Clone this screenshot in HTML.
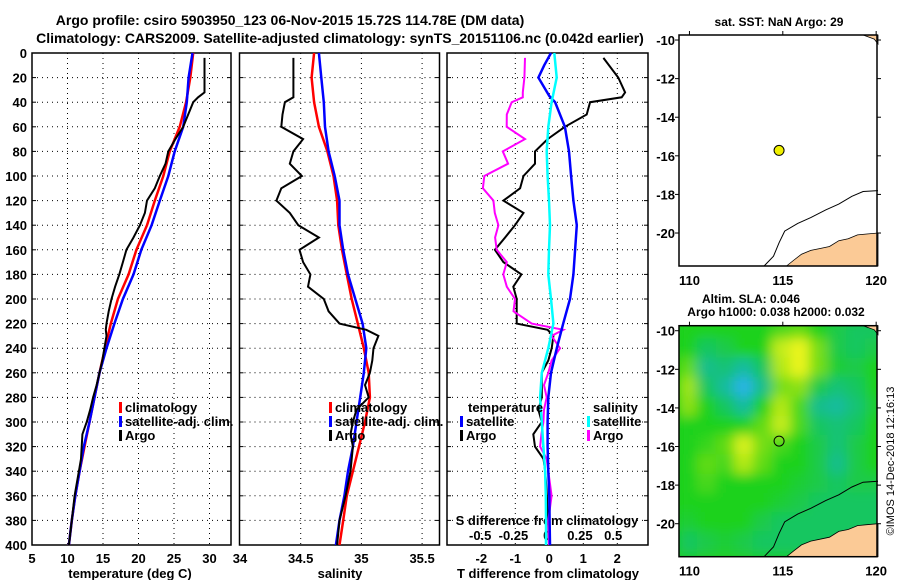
<!DOCTYPE html>
<html><head><meta charset="utf-8"><style>
html,body{margin:0;padding:0;background:#fff;}
svg{display:block;font-family:"Liberation Sans",Arial,sans-serif;font-weight:bold;}
</style></head><body>
<svg id="c" width="900" height="580" viewBox="0 0 900 580" xmlns="http://www.w3.org/2000/svg">
<defs>
<filter id="blur" x="-10%" y="-10%" width="120%" height="120%"><feGaussianBlur stdDeviation="6"/></filter>
<clipPath id="clip2"><rect x="679" y="325.7" width="198" height="231"/></clipPath>
</defs>
<text x="290" y="25" font-size="14" text-anchor="middle">Argo profile: csiro 5903950_123 06-Nov-2015 15.72S 114.78E (DM data)</text>
<text x="340" y="43" font-size="14" text-anchor="middle">Climatology: CARS2009. Satellite-adjusted climatology: synTS_20151106.nc (0.042d earlier)</text>
<g id="g"></g>
</svg>
<script>
const depths=[0,20,40,60,80,100,120,140,160,180,200,220,240,260,280,300,320,340,360,380,400];
const tempClim=[27.7,27.3,26.7,25.8,24.4,23.5,22.3,21.2,19.7,18.6,17.1,16.1,15.3,14.5,13.8,13.1,12.4,11.7,11.1,10.6,10.2];
const tempSat=[27.6,27.05,26.8,26.3,25.1,24.2,23.0,21.85,20.4,19.3,17.8,16.6,15.5,14.5,13.8,13.1,12.3,11.7,11.1,10.6,10.2];
const argoDepths=[4,20,32,36,40,50,60,70,80,90,100,110,120,130,140,150,160,170,180,190,200,210,220,225,230,240,250,260,270,280,290,300,310,320,330,340,360,380,400];
const tempArgo=[29.3,29.3,29.3,28.4,27.7,27.0,26.3,25.2,24.2,23.8,23.0,22.3,21.2,20.9,20.2,19.3,18.3,17.8,17.3,16.7,16.2,15.8,15.5,15.4,15.5,15.2,14.9,14.5,14.1,13.6,13.2,12.7,12.1,12.0,11.9,11.6,11.0,10.6,10.2];
const salClim=[34.61,34.59,34.61,34.65,34.72,34.77,34.80,34.81,34.84,34.88,34.92,34.97,35.02,35.06,35.07,35.03,34.98,34.93,34.88,34.85,34.82];
const salSat=[34.65,34.67,34.69,34.70,34.73,34.78,34.82,34.82,34.85,34.89,34.95,35.01,35.04,35.02,34.99,34.96,34.93,34.89,34.86,34.82,34.79];
const salArgo=[34.44,34.44,34.44,34.44,34.37,34.35,34.34,34.52,34.44,34.41,34.51,34.34,34.30,34.41,34.48,34.65,34.49,34.52,34.58,34.56,34.69,34.73,34.82,35.04,35.14,35.10,35.09,35.07,35.03,35.06,34.96,34.93,34.91,34.93,34.92,34.91,34.87,34.82,34.80];
const tdiffSatDepths=[0,10,20,35,40,60,80,100,120,140,160,180,200,220,240,260,280,300,320,340,360,380,400];
const tdiffSat=[0.05,-0.15,-0.32,0.0,0.17,0.46,0.58,0.64,0.71,0.81,0.76,0.71,0.61,0.41,0.22,0.05,-0.03,-0.05,-0.05,-0.03,0.0,0.01,0.02];
const tdiffArgo=[1.59,2.03,2.23,2.13,1.20,1.10,0.46,-0.05,-0.42,-0.42,-0.76,-0.86,-1.35,-0.76,-1.01,-1.30,-1.60,-1.35,-0.82,-1.06,-0.96,-0.96,-0.96,-0.05,0.12,0.07,-0.03,-0.22,-0.22,-0.22,-0.32,-0.22,-0.47,-0.42,-0.17,-0.12,-0.07,-0.04,-0.01];
const sdiffSat=[0.057,0.075,0.037,0.012,0.0,0.007,0.017,0.025,0.017,0.012,0.032,0.05,0.012,-0.037,-0.05,-0.037,-0.025,-0.012,-0.007,-0.005,-0.005];
const sdiffArgo=[-0.163,-0.168,-0.18,-0.18,-0.263,-0.30,-0.301,-0.163,-0.33,-0.29,-0.469,-0.48,-0.401,-0.39,-0.363,-0.388,-0.376,-0.30,-0.326,-0.30,-0.238,-0.25,-0.113,0.125,0.037,0.10,0.037,0.012,-0.02,0.0,-0.02,-0.025,-0.04,-0.05,0.0,0.012,0.037,0.012,0.017];
const tempTicks=[5,10,15,20,25,30];
const salTicks=[34,34.5,35,35.5];
const tdTicks=[-2,-1,0,1,2];
const sdTicks=[-0.5,-0.25,0,0.25,0.5];
const depthTicks=[0,20,40,60,80,100,120,140,160,180,200,220,240,260,280,300,320,340,360,380,400];
const latTicks=[-10,-12,-14,-16,-18,-20];
const lonTicks=[110,115,120];
const slaLats=[-10,-11,-12,-13,-14,-15,-16,-17,-18,-19,-20,-21];
const slaLons=[110,111,112,113,114,115,116,117,118,119,120];
const sla=[
[0,0,0,0,0,0.2,0.3,0,-0.2,-0.3,-0.3],
[0,-0.3,-0.2,0,0,0.8,1,0.4,-0.2,-0.3,-0.2],
[0.3,-0.5,-0.4,-0.6,-0.3,0.7,1,0.4,-0.1,-0.2,0],
[0.6,-0.3,-0.6,-1,-0.5,0.4,0.5,-0.2,-0.4,-0.3,0],
[0.5,0,-0.3,-0.6,0,0.7,0.2,-0.5,-0.6,-0.4,-0.1],
[0,0,0,0,0.3,0.8,0.2,-0.3,-0.4,-0.3,0],
[0,0.1,0.3,0.9,0.4,0.2,0,-0.2,-0.4,-0.2,0],
[0,0.3,0.2,0.7,0.3,0,0,-0.2,-0.5,-0.2,0],
[0,0.2,0,0,0,0,-0.1,-0.2,-0.3,-0.2,-0.2],
[0,0,0,0,0,-0.1,-0.2,-0.3,-0.3,-0.3,-0.3],
[-0.1,0,0,0,-0.2,-0.3,-0.3,-0.3,-0.3,-0.3,-0.3],
[-0.3,-0.2,-0.1,-0.2,-0.3,-0.3,-0.3,-0.3,-0.3,-0.3,-0.3]];
const landLon=[115.2,115.6,116,116.5,117,117.5,118,118.5,119,119.5,120.2,120.2];
const landLat=[-21.8,-21.4,-21.1,-20.9,-20.8,-20.7,-20.4,-20.3,-20.1,-20.05,-20,-21.8];
const isoLon=[114,114.5,114.8,115.1,115.8,116.5,117.3,118,118.7,119.3,120.2];
const isoLat=[-21.8,-21.2,-20.5,-19.9,-19.5,-19.2,-18.8,-18.5,-18.1,-17.85,-17.8];
const floatLon=114.8, floatLat=-15.72;

const NS="http://www.w3.org/2000/svg";
const G=document.getElementById('g');
function mk(tag,attrs,parent){const e=document.createElementNS(NS,tag);for(const k in attrs)e.setAttribute(k,attrs[k]);(parent||G).appendChild(e);return e;}
function txt(x,y,s,size,anchor,name){const t=mk('text',{x:x,y:y,'font-size':size,'text-anchor':anchor});t.textContent=s;


return t;}
const TOP=53,BOT=545;
const yD=d=>TOP+(d/400)*(BOT-TOP);
const panels=[
 {l:32,r:231,x:v=>32+(v-5)*7.1},
 {l:239.5,r:439.5,x:v=>240+(v-34)*121.4},
 {l:447,r:648,x:v=>549.3+v*34}];
const xS=v=>546.7+v*133;

function line(xs,ys,fx,color,w,name){
 const pts=xs.map((v,i)=>fx(v).toFixed(1)+','+yD(ys[i]).toFixed(1)).join(' ');
 const p=mk('polyline',{points:pts,fill:'none',stroke:color,'stroke-width':w,'stroke-linejoin':'miter'});
 
 
}
panels.forEach((P,pi)=>{
 const grid=mk('g',{stroke:'#000','stroke-width':1,'stroke-dasharray':'1,4'});
 
 
 depthTicks.slice(1,-1).forEach(d=>mk('line',{x1:P.l,x2:P.r,y1:yD(d),y2:yD(d)},grid));
 const vt=pi==0?tempTicks.slice(1):pi==1?salTicks.slice(1):tdTicks;
 vt.forEach(v=>mk('line',{x1:P.x(v),x2:P.x(v),y1:TOP,y2:BOT},grid));
 depthTicks.forEach(d=>{mk('line',{x1:P.l,x2:P.l+4,y1:yD(d),y2:yD(d),stroke:'#000'});mk('line',{x1:P.r-4,x2:P.r,y1:yD(d),y2:yD(d),stroke:'#000'});});
 const f=mk('rect',{x:P.l,y:TOP,width:P.r-P.l,height:BOT-TOP,fill:'none',stroke:'#000','stroke-width':1.5});
 
 
});
depthTicks.forEach(d=>txt(27,yD(d)+5,String(d),13,'end','depth-tick-label'));
tempTicks.forEach(v=>txt(panels[0].x(v),563,String(v),13,'middle','temperature-tick-label'));
salTicks.forEach(v=>txt(panels[1].x(v),563,String(v),13,'middle','salinity-tick-label'));
tdTicks.forEach(v=>txt(panels[2].x(v),563,String(v),13,'middle','t-diff-tick-label'));
sdTicks.forEach(v=>txt(xS(v),540,String(v),13,'middle','s-diff-tick-label'));
txt(130,578,'temperature (deg C)',13,'middle','temperature-axis-title');
txt(340,578,'salinity',13,'middle','salinity-axis-title');
txt(548,578,'T difference from climatology',13,'middle','t-diff-axis-title');
txt(547,525,'S difference from climatology',13,'middle','s-diff-axis-title');

line(tempClim,depths,panels[0].x,'#f00',2.5,'temperature-climatology-line');
line(tempSat,depths,panels[0].x,'#00f',2.5,'temperature-satellite-line');
line(tempArgo,argoDepths,panels[0].x,'#000',2,'temperature-argo-line');
line(salClim,depths,panels[1].x,'#f00',2.5,'salinity-climatology-line');
line(salSat,depths,panels[1].x,'#00f',2.5,'salinity-satellite-line');
line(salArgo,argoDepths,panels[1].x,'#000',2,'salinity-argo-line');
line(tdiffArgo,argoDepths,panels[2].x,'#000',2,'t-diff-argo-line');
line(sdiffArgo,argoDepths,xS,'#f0f',2,'s-diff-argo-line');
line(tdiffSat,tdiffSatDepths,panels[2].x,'#00f',2.5,'t-diff-satellite-line');
line(sdiffSat,depths,xS,'#0ff',2.5,'s-diff-satellite-line');

function leg(x,y,color,label,name){mk('rect',{x:x,y:y-10,width:3,height:11,fill:color});txt(x+6,y,label,13,'start',name);}
[119,329].forEach(lx=>{
 leg(lx,412,'#f00','climatology','legend-climatology');
 leg(lx,426,'#00f','satellite-adj. clim.','legend-satellite-adj');
 leg(lx,440,'#000','Argo','legend-argo');
});
txt(468,412,'temperature',13,'start','legend-temperature-header');
leg(460,426,'#00f','satellite','legend-t-satellite');
leg(460,440,'#000','Argo','legend-t-argo');
txt(593,412,'salinity',13,'start','legend-salinity-header');
leg(587,426,'#0ff','satellite','legend-s-satellite');
leg(587,440,'#f0f','Argo','legend-s-argo');

const ML=679,MR=877;
const lonX=lo=>ML+(lo-109.44)*18.67;
function drawMap(top,bot,idx){
 const latY=la=>top+(-9.74-la)*19.3;
 const g=mk('g',{});
 
 
 if(idx==2){
  const hg=mk('g',{'clip-path':'url(#clip2)'},g);
  mk('rect',{x:ML,y:top,width:MR-ML,height:bot-top,fill:'#20d020'},hg);
  const bg=mk('g',{filter:'url(#blur)'},hg);
  const col=v=>{const st=[[-1,[40,180,230]],[-0.5,[20,190,140]],[0,[30,210,30]],[0.5,[140,225,20]],[1,[235,245,30]]];
   v=Math.max(-1,Math.min(1,v));for(let i=0;i<st.length-1;i++){if(v<=st[i+1][0]){const t=(v-st[i][0])/(st[i+1][0]-st[i][0]);return 'rgb('+st[i][1].map((c,k)=>Math.round(c+(st[i+1][1][k]-c)*t)).join(',')+')';}}return 'rgb(235,245,30)';};
  slaLats.forEach((la,r)=>slaLons.forEach((lo,c)=>{
   const cell=mk('rect',{x:lonX(lo-0.6),y:latY(la+0.6),width:18.67*1.2+1,height:19.3*1.2+1,fill:col(sla[r][c])},bg);
   
   
  }));
 }
 const lp=landLon.map((lo,i)=>lonX(Math.min(lo,120.1)).toFixed(1)+','+Math.min(bot,latY(landLat[i])).toFixed(1)).join(' ');
 mk('polygon',{points:lp,fill:'#fbca96',stroke:'#000','stroke-width':0.8},g);
 mk('polygon',{points:[[119.3,-9.74],[120.1,-9.74],[120.1,-10.2],[119.9,-9.95]].map(p=>lonX(p[0]).toFixed(1)+','+latY(p[1]).toFixed(1)).join(' '),fill:'#fbca96',stroke:'#000','stroke-width':0.8},g);
 mk('polyline',{points:isoLon.map((lo,i)=>lonX(Math.min(lo,120.1)).toFixed(1)+','+Math.min(bot,latY(isoLat[i])).toFixed(1)).join(' '),fill:'none',stroke:'#000','stroke-width':1},g);
 mk('rect',{x:ML,y:top,width:MR-ML,height:bot-top,fill:'none',stroke:'#000','stroke-width':1.5},g);
 latTicks.forEach(la=>{mk('line',{x1:ML-4,x2:ML,y1:latY(la),y2:latY(la),stroke:'#000'},g);mk('line',{x1:MR,x2:MR+4,y1:latY(la),y2:latY(la),stroke:'#000'},g);txt(675,latY(la)+5,String(la),13,'end','map-'+idx+'-lat-label');});
 lonTicks.forEach(lo=>{mk('line',{x1:lonX(lo),x2:lonX(lo),y1:top-4,y2:top,stroke:'#000'},g);txt(lonX(lo),bot+19,String(lo),13,'middle','map-'+idx+'-lon-label');});
 const m=mk('circle',{cx:lonX(floatLon),cy:latY(floatLat),r:5,fill:idx==1?'#f0f000':'none',stroke:'#000','stroke-width':1},g);
 
 
}
drawMap(35,266,1);
drawMap(325.7,556.7,2);
txt(779,26,'sat. SST: NaN Argo: 29',12,'middle','map-1-title');
txt(751,303,'Altim. SLA: 0.046',12,'middle','map-2-title-line-1');
txt(776,316,'Argo h1000: 0.038 h2000: 0.032',12,'middle','map-2-title-line-2');
const ts=txt(0,0,'©IMOS 14-Dec-2018 12:16:13',11,'middle','timestamp-credit');
ts.setAttribute('font-weight','normal');
ts.setAttribute('transform','translate(894,461) rotate(-90)');
</script>
</body></html>
